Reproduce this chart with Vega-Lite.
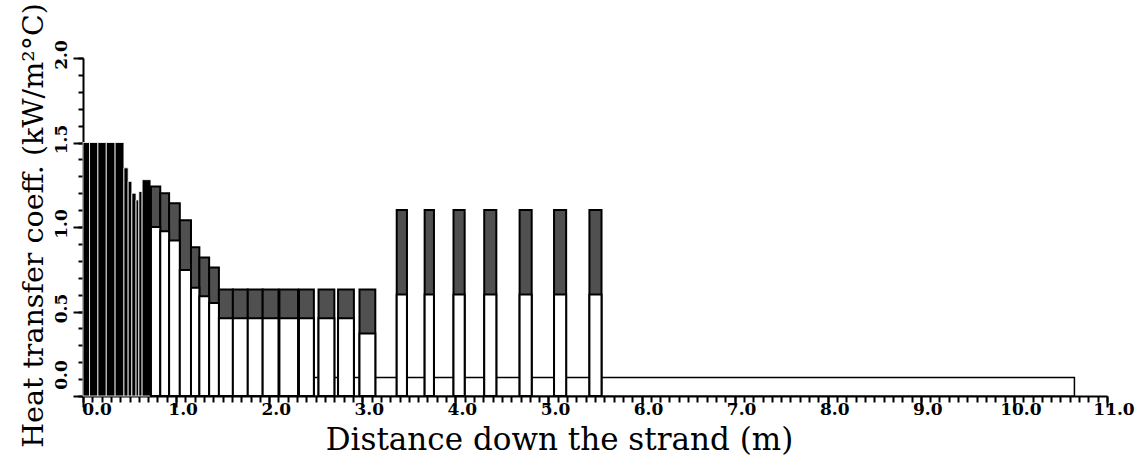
{
  "$schema": "https://vega.github.io/schema/vega-lite/v6.json",
  "width": 1024,
  "height": 338,
  "autosize": {"type": "none"},
  "padding": {"left": 83, "top": 58, "right": 40, "bottom": 63},
  "background": "white",
  "config": {
    "view": {"stroke": null},
    "axis": {
      "grid": false,
      "domainColor": "black",
      "domainWidth": 2,
      "tickColor": "black",
      "tickWidth": 2,
      "labelColor": "black",
      "titleColor": "black"
    }
  },
  "datasets": {
    "zones": [
      {"start": 0.00, "end": 0.07, "total": 1.5, "zone": "roll"},
      {"start": 0.07, "end": 0.16, "total": 1.5, "zone": "roll"},
      {"start": 0.16, "end": 0.25, "total": 1.5, "zone": "roll"},
      {"start": 0.25, "end": 0.345, "total": 1.5, "zone": "roll"},
      {"start": 0.345, "end": 0.44, "total": 1.5, "zone": "roll"},
      {"start": 0.44, "end": 0.485, "total": 1.35, "zone": "roll"},
      {"start": 0.485, "end": 0.525, "total": 1.27, "zone": "roll"},
      {"start": 0.525, "end": 0.57, "total": 1.2, "zone": "roll"},
      {"start": 0.57, "end": 0.60, "total": 1.16, "zone": "roll"},
      {"start": 0.60, "end": 0.635, "total": 1.21, "zone": "roll"},
      {"start": 0.635, "end": 0.73, "total": 1.28, "zone": "roll"},
      {"start": 0.73, "end": 0.83, "spray": 1.0, "total": 1.24, "zone": "spray"},
      {"start": 0.83, "end": 0.925, "spray": 0.975, "total": 1.2, "zone": "spray"},
      {"start": 0.925, "end": 1.04, "spray": 0.92, "total": 1.14, "zone": "spray"},
      {"start": 1.04, "end": 1.16, "spray": 0.745, "total": 1.04, "zone": "spray"},
      {"start": 1.16, "end": 1.25, "spray": 0.64, "total": 0.88, "zone": "spray"},
      {"start": 1.25, "end": 1.355, "spray": 0.59, "total": 0.82, "zone": "spray"},
      {"start": 1.355, "end": 1.46, "spray": 0.55, "total": 0.76, "zone": "spray"},
      {"start": 1.46, "end": 1.61, "spray": 0.46, "total": 0.63, "zone": "spray"},
      {"start": 1.61, "end": 1.77, "spray": 0.46, "total": 0.63, "zone": "spray"},
      {"start": 1.77, "end": 1.93, "spray": 0.46, "total": 0.63, "zone": "spray"},
      {"start": 1.93, "end": 2.10, "spray": 0.46, "total": 0.63, "zone": "spray"},
      {"start": 2.11, "end": 2.31, "spray": 0.46, "total": 0.63, "zone": "spray"},
      {"start": 2.32, "end": 2.48, "spray": 0.46, "total": 0.63, "zone": "spray"},
      {"start": 2.53, "end": 2.70, "spray": 0.46, "total": 0.63, "zone": "spray"},
      {"start": 2.74, "end": 2.91, "spray": 0.46, "total": 0.63, "zone": "spray"},
      {"start": 2.97, "end": 3.14, "spray": 0.37, "total": 0.63, "zone": "spray"},
      {"start": 3.37, "end": 3.48, "spray": 0.6, "total": 1.1, "zone": "spray"},
      {"start": 3.67, "end": 3.77, "spray": 0.6, "total": 1.1, "zone": "spray"},
      {"start": 3.98, "end": 4.10, "spray": 0.6, "total": 1.1, "zone": "spray"},
      {"start": 4.31, "end": 4.44, "spray": 0.6, "total": 1.1, "zone": "spray"},
      {"start": 4.69, "end": 4.82, "spray": 0.6, "total": 1.1, "zone": "spray"},
      {"start": 5.06, "end": 5.19, "spray": 0.6, "total": 1.1, "zone": "spray"},
      {"start": 5.44, "end": 5.57, "spray": 0.6, "total": 1.1, "zone": "spray"}
    ],
    "base": [
      {"start": 2.10, "end": 10.65, "level": 0.11}
    ],
    "ticklabels": [
      {"axis": "x", "pos": 0}, {"axis": "x", "pos": 1}, {"axis": "x", "pos": 2}, {"axis": "x", "pos": 3},
      {"axis": "x", "pos": 4}, {"axis": "x", "pos": 5}, {"axis": "x", "pos": 6}, {"axis": "x", "pos": 7},
      {"axis": "x", "pos": 8}, {"axis": "x", "pos": 9}, {"axis": "x", "pos": 10}, {"axis": "x", "pos": 11},
      {"axis": "y", "pos": 0}, {"axis": "y", "pos": 0.5}, {"axis": "y", "pos": 1}, {"axis": "y", "pos": 1.5},
      {"axis": "y", "pos": 2}
    ]
  },
  "resolve": {"axis": {"x": "independent", "y": "independent"}},
  "layer": [
    {
      "data": {"name": "base"},
      "mark": {"type": "bar", "fill": "white", "stroke": "black", "strokeWidth": 1.5},
      "encoding": {
        "x": {"field": "start", "type": "quantitative",
              "scale": {"domain": [0, 11], "nice": false, "zero": false},
              "axis": {"orient": "bottom", "tickCount": 110, "labels": false, "title": null, "tickSize": 6}},
        "x2": {"field": "end"},
        "y": {"field": "level", "type": "quantitative",
              "scale": {"domain": [0, 2], "nice": false},
              "axis": {"orient": "left", "tickCount": 20, "labels": false, "title": null, "tickSize": 5}},
        "y2": {"datum": 0}
      }
    },
    {
      "data": {"name": "zones"},
      "transform": [{"filter": "datum.zone === 'roll'"}],
      "mark": {"type": "bar", "fill": "black", "stroke": "white", "strokeWidth": 0.8},
      "encoding": {
        "x": {"field": "start", "type": "quantitative",
              "scale": {"domain": [0, 11], "nice": false, "zero": false},
              "axis": {"orient": "bottom", "values": [0, 1, 2, 3, 4, 5, 6, 7, 8, 9, 10, 11], "labels": false,
                       "domain": false, "tickSize": 11,
                       "title": "Distance down the strand (m)", "titleFont": "DejaVu Serif",
                       "titleFontWeight": "normal", "titleFontSize": 31,
                       "titleX": 476, "titleY": 53, "titleAlign": "center", "titleBaseline": "alphabetic"}},
        "x2": {"field": "end"},
        "y": {"field": "total", "type": "quantitative",
              "scale": {"domain": [0, 2], "nice": false},
              "axis": {"orient": "left", "values": [0, 0.5, 1, 1.5, 2], "labels": false, "domain": false,
                       "tickSize": 10,
                       "title": "Heat transfer coeff. (kW/m²°C)", "titleFont": "DejaVu Serif",
                       "titleFontWeight": "normal", "titleFontSize": 28.5,
                       "titleAngle": 270, "titleX": -41, "titleY": 167, "titleAlign": "center",
                       "titleBaseline": "alphabetic"}},
        "y2": {"datum": 0}
      }
    },
    {
      "data": {"name": "zones"},
      "transform": [{"filter": "datum.zone === 'spray'"}],
      "mark": {"type": "bar", "fill": "#505050", "stroke": "black", "strokeWidth": 2},
      "encoding": {
        "x": {"field": "start", "type": "quantitative",
              "scale": {"domain": [0, 11], "nice": false, "zero": false}, "axis": null},
        "x2": {"field": "end"},
        "y": {"field": "total", "type": "quantitative",
              "scale": {"domain": [0, 2], "nice": false}, "axis": null},
        "y2": {"datum": 0}
      }
    },
    {
      "data": {"name": "zones"},
      "transform": [{"filter": "datum.zone === 'spray'"}],
      "mark": {"type": "bar", "fill": "white", "stroke": "black", "strokeWidth": 2},
      "encoding": {
        "x": {"field": "start", "type": "quantitative",
              "scale": {"domain": [0, 11], "nice": false, "zero": false}, "axis": null},
        "x2": {"field": "end"},
        "y": {"field": "spray", "type": "quantitative",
              "scale": {"domain": [0, 2], "nice": false}, "axis": null},
        "y2": {"datum": 0}
      }
    },
    {
      "data": {"name": "ticklabels"},
      "transform": [{"filter": "datum.axis === 'x' && datum.pos > 0"}],
      "mark": {"type": "text", "font": "DejaVu Serif", "fontWeight": "bold", "fontSize": 17,
               "align": "center", "baseline": "alphabetic", "dx": 7, "dy": 19, "color": "black"},
      "encoding": {
        "x": {"field": "pos", "type": "quantitative", "axis": null},
        "y": {"datum": 0, "type": "quantitative", "axis": null},
        "text": {"field": "pos", "type": "quantitative", "format": ".1f"}
      }
    },
    {
      "data": {"name": "ticklabels"},
      "transform": [{"filter": "datum.axis === 'x' && datum.pos === 0"}],
      "mark": {"type": "text", "font": "DejaVu Serif", "fontWeight": "bold", "fontSize": 17,
               "align": "center", "baseline": "alphabetic", "dx": 14, "dy": 19, "color": "black"},
      "encoding": {
        "x": {"field": "pos", "type": "quantitative", "axis": null},
        "y": {"datum": 0, "type": "quantitative", "axis": null},
        "text": {"field": "pos", "type": "quantitative", "format": ".1f"}
      }
    },
    {
      "data": {"name": "ticklabels"},
      "transform": [{"filter": "datum.axis === 'y' && datum.pos > 0"}],
      "mark": {"type": "text", "font": "DejaVu Serif", "fontWeight": "bold", "fontSize": 17, "angle": 270,
               "align": "center", "baseline": "alphabetic", "dx": 3, "dy": -16, "color": "black"},
      "encoding": {
        "y": {"field": "pos", "type": "quantitative", "axis": null},
        "x": {"datum": 0, "type": "quantitative", "axis": null},
        "text": {"field": "pos", "type": "quantitative", "format": ".1f"}
      }
    },
    {
      "data": {"name": "ticklabels"},
      "transform": [{"filter": "datum.axis === 'y' && datum.pos === 0"}],
      "mark": {"type": "text", "font": "DejaVu Serif", "fontWeight": "bold", "fontSize": 17, "angle": 270,
               "align": "center", "baseline": "alphabetic", "dx": 21, "dy": -16, "color": "black"},
      "encoding": {
        "y": {"field": "pos", "type": "quantitative", "axis": null},
        "x": {"datum": 0, "type": "quantitative", "axis": null},
        "text": {"field": "pos", "type": "quantitative", "format": ".1f"}
      }
    }
  ]
}
